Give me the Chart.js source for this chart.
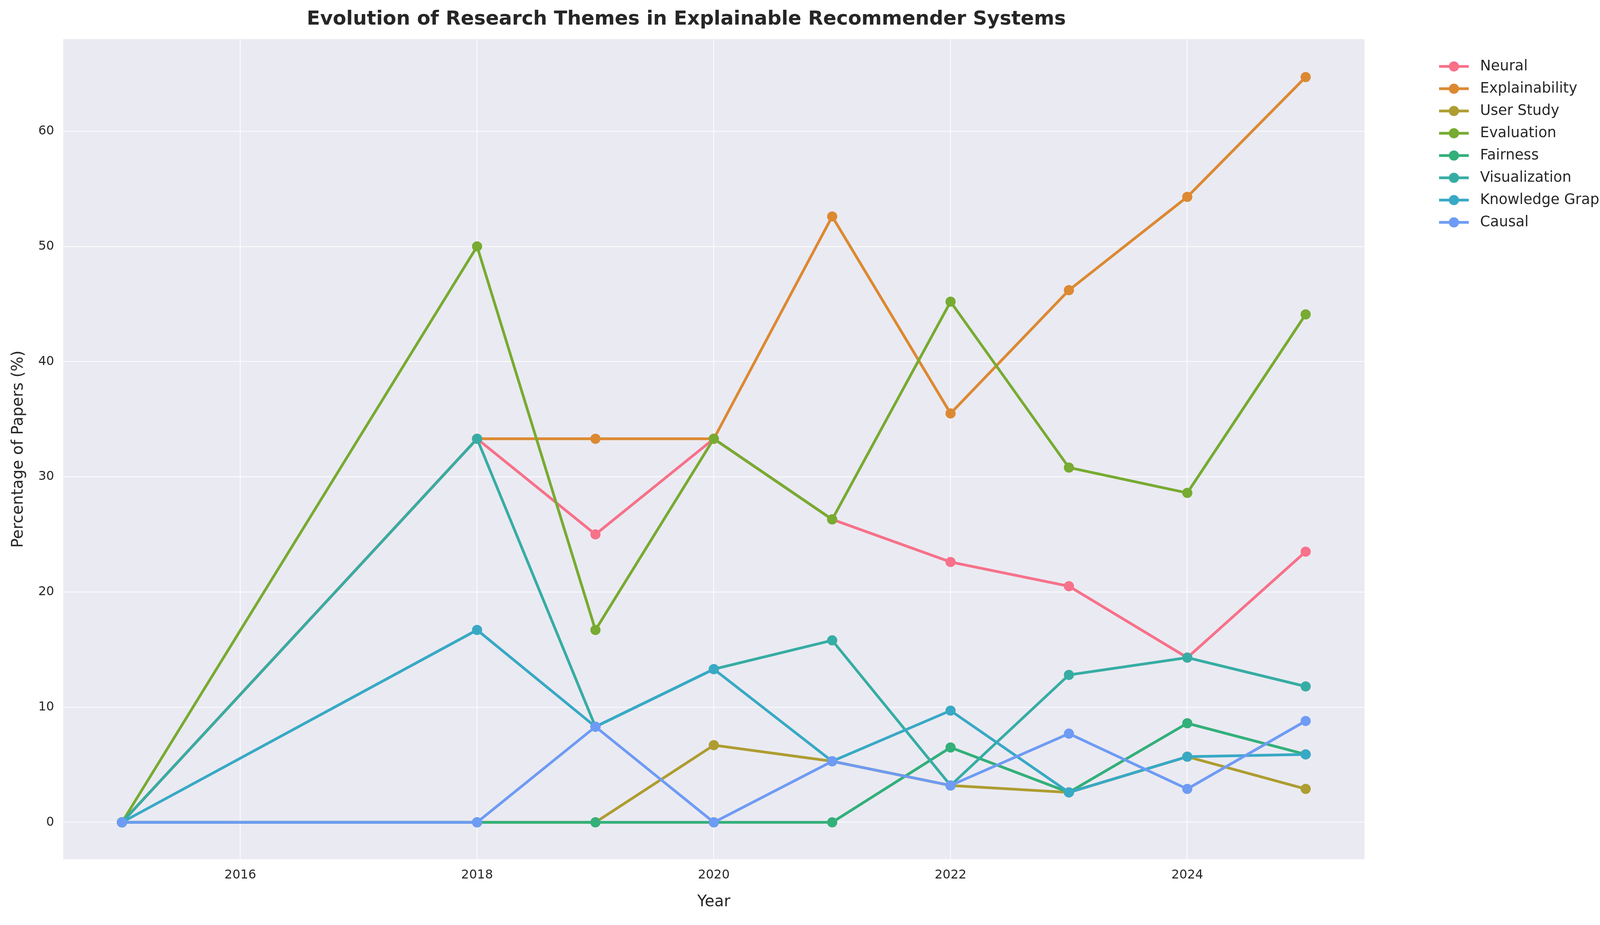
<!DOCTYPE html>
<html>
<head>
<meta charset="utf-8">
<script src="https://cdn.jsdelivr.net/npm/chart.js@4/dist/chart.umd.min.js"></script>
<style>
  html, body { margin: 0; padding: 0; background: #fff; }
  #wrap { width: 4174px; height: 2367px; }
</style>
</head>
<body>
<div id="wrap"><canvas id="chart"></canvas></div>
<script>
// data
const years = [2015, 2018, 2019, 2020, 2021, 2022, 2023, 2024, 2025];
const neural = [0, 33.3, 25.0, 33.3, 26.3, 22.6, 20.5, 14.3, 23.5];
const explainability = [0, 33.3, 33.3, 33.3, 52.6, 35.5, 46.2, 54.3, 64.7];
const userStudy = [0, 0, 0, 6.7, 5.3, 3.2, 2.6, 5.7, 2.9];
const evaluation = [0, 50.0, 16.7, 33.3, 26.3, 45.2, 30.8, 28.6, 44.1];
const fairness = [0, 0, 0, 0, 0, 6.5, 2.6, 8.6, 5.9];
const visualization = [0, 33.3, 8.3, 13.3, 15.8, 3.2, 12.8, 14.3, 11.8];
const knowledgeGraph = [0, 16.7, 8.3, 13.3, 5.3, 9.7, 2.6, 5.7, 5.9];
const causal = [0, 0, 8.3, 0, 5.3, 3.2, 7.7, 2.9, 8.8];

const seriesNames = ["Neural", "Explainability", "User Study", "Evaluation", "Fairness", "Visualization", "Knowledge Graph", "Causal"];
const seriesValues = [neural, explainability, userStudy, evaluation, fairness, visualization, knowledgeGraph, causal];
const colors = ["#f77189", "#dc8932", "#ae9d31", "#77ab31", "#33b07a", "#36ada4", "#38a9c5", "#6e9bf4"];

const FONT = "'DejaVu Sans', Arial, sans-serif";

// grey plot background like seaborn darkgrid
const plotBg = {
  id: "plotBg",
  beforeDraw(chart) {
    const { ctx, chartArea: a } = chart;
    ctx.save();
    ctx.fillStyle = "#eaeaf2";
    ctx.fillRect(a.left, a.top, a.right - a.left, a.bottom - a.top);
    ctx.restore();
  }
};

// legend outside the plot, line + marker like matplotlib
const sideLegend = {
  id: "sideLegend",
  afterDraw(chart) {
    const ctx = chart.ctx;
    const x0 = chart.chartArea.right + 190;
    let y = 170;
    ctx.save();
    ctx.font = "37px " + FONT;
    ctx.textBaseline = "middle";
    seriesNames.forEach((name, i) => {
      ctx.strokeStyle = colors[i];
      ctx.fillStyle = colors[i];
      ctx.lineWidth = 7;
      ctx.beginPath();
      ctx.moveTo(x0, y);
      ctx.lineTo(x0 + 76, y);
      ctx.stroke();
      ctx.beginPath();
      ctx.arc(x0 + 38, y, 13, 0, Math.PI * 2);
      ctx.fill();
      ctx.fillStyle = "#262626";
      ctx.fillText(name, x0 + 105, y);
      y += 57;
    });
    ctx.restore();
  }
};

const datasets = seriesNames.map((name, i) => ({
  label: name,
  data: years.map((y, j) => ({ x: y, y: seriesValues[i][j] })),
  borderColor: colors[i],
  backgroundColor: colors[i],
  borderWidth: 7,
  pointRadius: 13,
  pointHoverRadius: 13,
  pointBorderWidth: 0,
  tension: 0,
  order: -i
}));

new Chart(document.getElementById("chart"), {
  type: "line",
  data: { datasets: datasets },
  plugins: [plotBg, sideLegend],
  options: {
    responsive: true,
    maintainAspectRatio: false,
    devicePixelRatio: 1,
    animation: false,
    layout: { padding: { left: 20, right: 680, top: 20, bottom: 30 } },
    plugins: {
      title: {
        display: true,
        text: "Evolution of Research Themes in Explainable Recommender Systems",
        font: { family: FONT, size: 50, weight: "bold" },
        color: "#262626",
        padding: { top: 0, bottom: 20 }
      },
      legend: { display: false },
      tooltip: { enabled: false }
    },
    scales: {
      x: {
        type: "linear",
        min: 2014.5,
        max: 2025.5,
        grid: { color: "rgba(255,255,255,0.9)", lineWidth: 2, drawTicks: false },
        border: { display: false },
        ticks: {
          stepSize: 2,
          callback: v => (v % 2 === 0 ? String(v) : ""),
          font: { family: FONT, size: 32 },
          color: "#262626",
          padding: 22
        },
        title: { display: true, text: "Year", font: { family: FONT, size: 40 }, color: "#262626" }
      },
      y: {
        min: -3.2,
        max: 68,
        afterBuildTicks: axis => { axis.ticks = [0, 10, 20, 30, 40, 50, 60].map(v => ({ value: v })); },
        grid: { color: "rgba(255,255,255,0.9)", lineWidth: 2, drawTicks: false },
        border: { display: false },
        ticks: {
          font: { family: FONT, size: 32 },
          color: "#262626",
          padding: 22
        },
        title: { display: true, text: "Percentage of Papers (%)", font: { family: FONT, size: 40 }, color: "#262626" }
      }
    }
  }
});
</script>
</body>
</html>
